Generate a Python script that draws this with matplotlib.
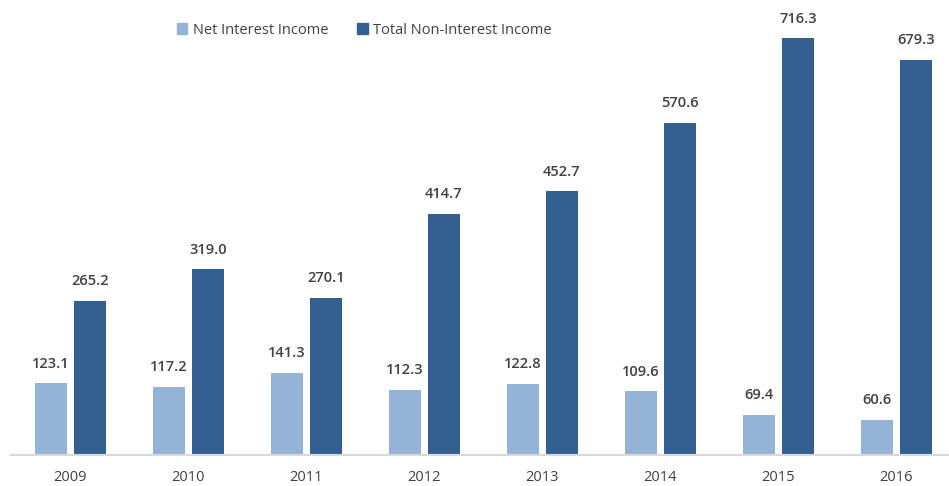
import matplotlib.pyplot as plt
import numpy as np
from matplotlib.patches import Patch

years = ['2009', '2010', '2011', '2012', '2013', '2014', '2015', '2016']
net_interest = [123.1, 117.2, 141.3, 112.3, 122.8, 109.6, 69.4, 60.6]
non_interest = [265.2, 319.0, 270.1, 414.7, 452.7, 570.6, 716.3, 679.3]

light = '#95B3D7'
dark = '#335F91'
text_col = '#404040'

plt.rcParams['font.family'] = ['Open Sans', 'DejaVu Sans']

fig = plt.figure(figsize=(9.49, 4.86), dpi=100)
ax = fig.add_axes([11 / 949, 31 / 486, 938 / 949, 455 / 486])

x = np.arange(len(years))
w = 0.271
off = 0.165
b1 = ax.bar(x - off, net_interest, w, color=light)
b2 = ax.bar(x + off, non_interest, w, color=dark)

# value labels above every bar
for bars, vals in ((b1, net_interest), (b2, non_interest)):
    for bar, v in zip(bars, vals):
        ax.annotate(f'{v:.1f}', (bar.get_x() + bar.get_width() / 2, v),
                    xytext=(0, 9), textcoords='offset points',
                    ha='center', va='bottom', fontsize=10.5, fontweight='semibold',
                    color=text_col)

ax.set_xlim(-0.504, 7.445)
ax.set_ylim(0, 781.6)
ax.set_xticks(x)
ax.set_xticklabels(years, fontsize=10.5, color=text_col)
ax.tick_params(axis='x', length=0, pad=11)
ax.set_yticks([])
for s in ('top', 'right', 'left'):
    ax.spines[s].set_visible(False)
ax.spines['bottom'].set_color('#d9d9d9')
ax.spines['bottom'].set_linewidth(1.5)

handles = [Patch(color=light, label='Net Interest Income'),
           Patch(color=dark, label='Total Non-Interest Income')]
fig.legend(handles=handles, loc='center', bbox_to_anchor=(0.384, 0.938), ncol=2,
           frameon=False, fontsize=10.5, handlelength=0.7, handleheight=0.7,
           handletextpad=0.4, columnspacing=2.0, labelcolor=text_col)

fig.savefig('out.png', dpi=100)
